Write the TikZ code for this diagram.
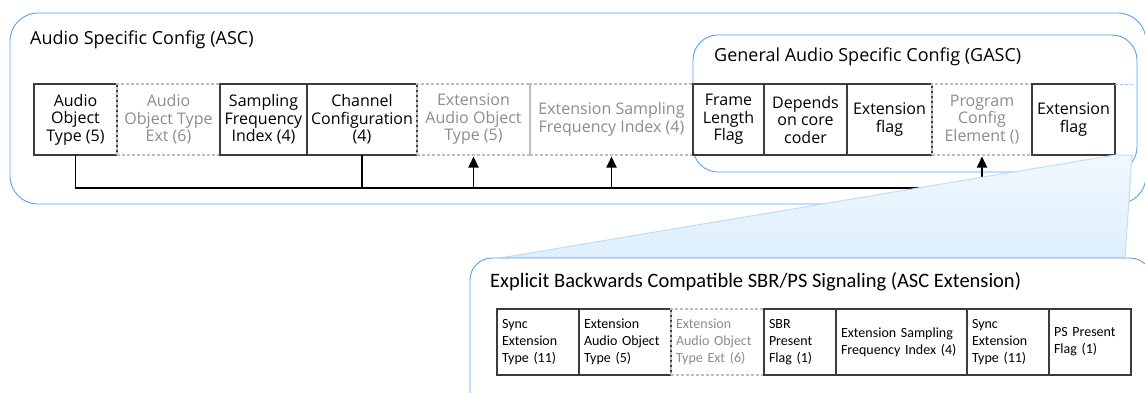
\documentclass[tikz,border=0pt]{standalone}
\usepackage{fontspec}
\setmainfont{Open Sans}
\newfontfamily\extfont{Carlito}
\usepackage{tikz}
\usetikzlibrary{positioning,calc,arrows.meta}
\definecolor{groupblue}{RGB}{84,163,240}
\definecolor{zoomtop}{RGB}{241,248,254}
\definecolor{zoombot}{RGB}{222,239,252}
\definecolor{zoomedge}{RGB}{190,222,248}
\definecolor{fieldline}{RGB}{60,60,60}
\definecolor{optline}{RGB}{190,190,190}
\definecolor{opttext}{RGB}{140,140,140}

\begin{document}
\begin{tikzpicture}[x=1pt,y=-1pt,
  group/.style={draw=groupblue,line width=0.9pt,rounded corners=#1},
  grouptitle/.style={anchor=west,inner sep=0pt,font=\fontsize{18}{22}\selectfont},
  field/.style={rectangle,draw=fieldline,line width=1.3pt,minimum width=#1,minimum height=71pt,inner sep=2pt,outer sep=0pt,align=center,font=\fontsize{16}{17.5}\selectfont},
  optfield/.style={field=#1,draw=optline,dash pattern=on 3pt off 2pt,text=opttext},
  extfield/.style={rectangle,draw=fieldline,line width=1.3pt,minimum width=#1,text width=#1-10pt,minimum height=66pt,inner xsep=5pt,inner ysep=2pt,outer sep=0pt,align=left,font=\extfont\fontsize{14}{17}\selectfont},
  optextfield/.style={extfield=#1,draw=optline,dash pattern=on 3pt off 2pt,text=opttext},
  bus/.style={draw,line width=1.8pt}]
  \clip (0,0) rectangle (1145,392);

  % ASC and GASC frames
  \draw[group=28pt] (10,13) rectangle (1146,204);
  \draw[group=25pt] (693,35) rectangle (1137,172);
  \node[grouptitle] (asctitle) at (30,40) {Audio Specific Config (ASC)};
  \node[grouptitle] (gasctitle) at (714,57) {General Audio Specific Config (GASC)};

  \node[field=83pt,anchor=north west] (aot) at (34,84) {Audio\\Object\\Type (5)};
  \node[optfield=103pt,right=0pt of aot] (aotext) {Audio\\Object Type\\Ext (6)};
  \node[field=87pt,right=0pt of aotext] (sfi) {Sampling\\Frequency\\Index (4)};
  \node[field=110pt,right=0pt of sfi] (cc) {Channel\\Configuration\\(4)};
  \node[optfield=113pt,right=0pt of cc] (eaot) {Extension\\Audio Object\\Type (5)};
  \node[optfield=163pt,right=0pt of eaot] (esfi) {Extension Sampling\\Frequency Index (4)};
  \node[field=71pt,right=0pt of esfi] (flf) {Frame\\Length\\Flag};
  \node[field=83pt,right=0pt of flf] (core) {Depends\\on core\\coder};
  \node[field=85pt,right=0pt of core] (extflag) {Extension\\flag};
  \node[optfield=100pt,right=0pt of extflag] (pce) {Program\\Config\\Element ()};
  \node[field=83pt,right=0pt of pce] (extflag2) {Extension\\flag};
  \coordinate (gascend) at (1135,0);
  \draw[groupblue!60,line width=1pt,dash pattern=on 3pt off 2pt] (extflag2.north east) -- (extflag2.north east -| gascend);
  \draw[groupblue!60,line width=1pt,dash pattern=on 3pt off 2pt] (extflag2.south east) -- (extflag2.south east -| gascend);

  % signalling bus
  \coordinate (busy) at (0,188);
  \draw[bus] (aot.south) -- (aot.south |- busy) -- (pce.south |- busy);
  \draw[bus] (cc.south) -- (cc.south |- busy);
  \foreach \f in {eaot,esfi,pce}
    \draw[bus,-{Triangle[length=11pt,width=10pt]},shorten >=1.5pt] (\f.south |- busy) -- (\f.south);

  % zoom into the extension
  \draw[draw=zoomedge,line width=1pt,top color=zoomtop,bottom color=zoombot] (extflag2.south east) -- (1132,155) -- (1125,258) -- (500,258) -- cycle;

  \draw[group=22pt,fill=white] (470,258) rectangle (1152,420);
  \node[grouptitle,font=\extfont\fontsize{20.5}{24}\selectfont] (exttitle) at (490,282) {Explicit Backwards Compatible SBR/PS Signaling (ASC Extension)};

  \node[extfield=82pt,anchor=north west] (sync1) at (497,309) {Sync\\Extension\\Type (11)};
  \node[extfield=92pt,right=0pt of sync1] (eaot2) {Extension\\Audio Object\\Type (5)};
  \node[optextfield=93pt,right=0pt of eaot2] (eaotext) {Extension\\Audio Object\\Type Ext (6)};
  \node[extfield=72pt,right=0pt of eaotext] (sbr) {SBR\\Present\\Flag (1)};
  \node[extfield=131pt,right=0pt of sbr] (esfi2) {Extension Sampling\\Frequency Index (4)};
  \node[extfield=82pt,right=0pt of esfi2] (sync2) {Sync\\Extension\\Type (11)};
  \node[extfield=82pt,right=0pt of sync2] (ps) {PS Present\\Flag (1)};
\end{tikzpicture}
\end{document}
